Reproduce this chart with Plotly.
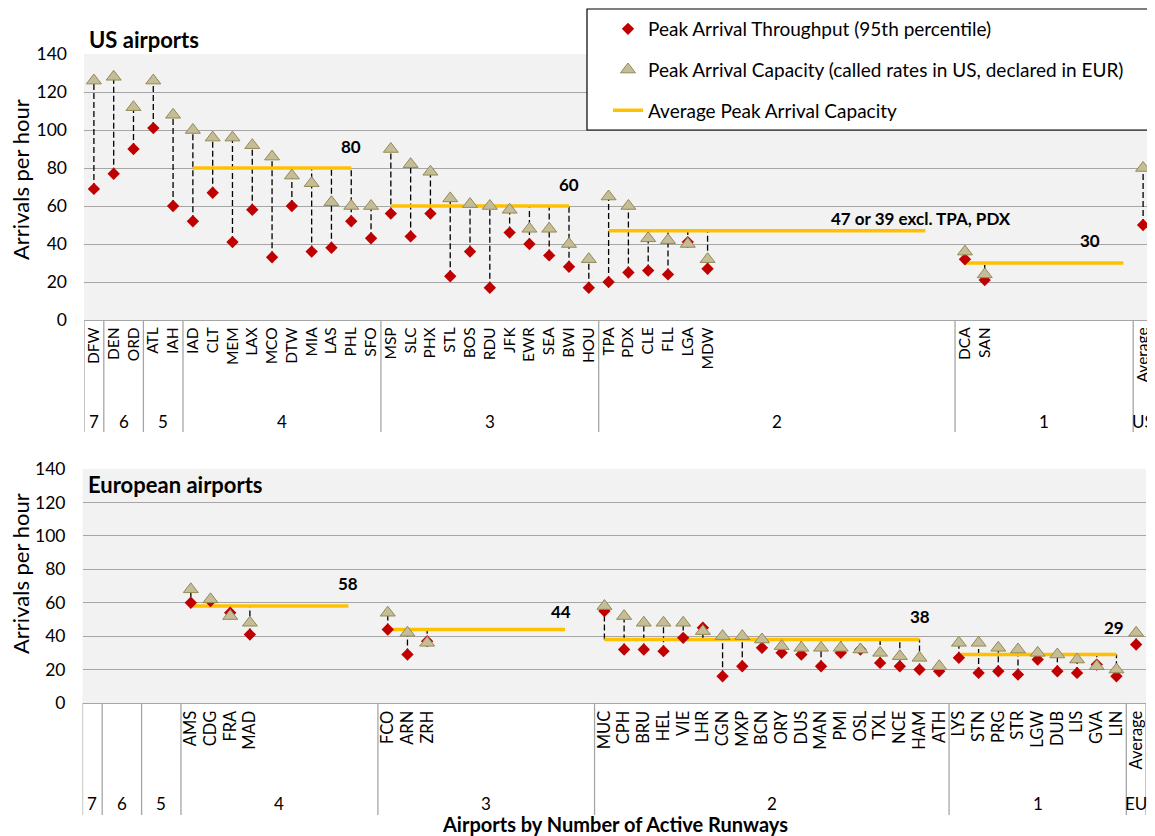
import plotly.graph_objects as go

# the page body has an 8px margin; the figure is sized so page pixels match the reference
OFF = 8
W, H = 1155 - OFF, 836 - OFF
FONT = "Lato"

# ---------------- data ----------------
runway_groups = ["7", "6", "5", "4", "3", "2", "1"]
group_slots = [1, 2, 2, 10, 11, 18, 9]

us_airports = ["DFW", "DEN", "ORD", "ATL", "IAH",
               "IAD", "CLT", "MEM", "LAX", "MCO", "DTW", "MIA", "LAS", "PHL", "SFO",
               "MSP", "SLC", "PHX", "STL", "BOS", "RDU", "JFK", "EWR", "SEA", "BWI", "HOU",
               "TPA", "PDX", "CLE", "FLL", "LGA", "MDW",
               "DCA", "SAN"]
us_runways = ["7", "6", "6", "5", "5",
              "4", "4", "4", "4", "4", "4", "4", "4", "4", "4",
              "3", "3", "3", "3", "3", "3", "3", "3", "3", "3", "3",
              "2", "2", "2", "2", "2", "2",
              "1", "1"]
us_capacity = [126, 128, 112, 126, 108,
               100, 96, 96, 92, 86, 76, 72, 62, 60, 60,
               90, 82, 78, 64, 61, 60, 58, 48, 48, 40, 32,
               65, 60, 43, 42, 40, 32,
               36, 24]
us_throughput = [69, 77, 90, 101, 60,
                 52, 67, 41, 58, 33, 60, 36, 38, 52, 43,
                 56, 44, 56, 23, 36, 17, 46, 40, 34, 28, 17,
                 20, 25, 26, 24, 41, 27,
                 32, 21]
us_avg_groups = ["4", "3", "2", "1"]
us_avg_values = [80, 60, 47, 30]
us_avg_labels = ["80", "60", "47 or 39 excl. TPA, PDX", "30"]
us_total_name = "US"
us_total_capacity = 80
us_total_throughput = 50

eu_airports = ["AMS", "CDG", "FRA", "MAD",
               "FCO", "ARN", "ZRH",
               "MUC", "CPH", "BRU", "HEL", "VIE", "LHR", "CGN", "MXP", "BCN", "ORY",
               "DUS", "MAN", "PMI", "OSL", "TXL", "NCE", "HAM", "ATH",
               "LYS", "STN", "PRG", "STR", "LGW", "DUB", "LIS", "GVA", "LIN"]
eu_runways = ["4", "4", "4", "4",
              "3", "3", "3",
              "2", "2", "2", "2", "2", "2", "2", "2", "2", "2",
              "2", "2", "2", "2", "2", "2", "2", "2",
              "1", "1", "1", "1", "1", "1", "1", "1", "1"]
eu_capacity = [68, 62, 52, 48,
               54, 42, 36,
               58, 52, 48, 48, 48, 43, 40, 40, 38, 34,
               33, 33, 33, 32, 30, 28, 27, 22,
               36, 36, 33, 32, 30, 29, 26, 22, 20]
eu_throughput = [60, 61, 54, 41,
                 44, 29, 37,
                 55, 32, 32, 31, 39, 45, 16, 22, 33, 30,
                 29, 22, 30, 32, 24, 22, 20, 19,
                 27, 18, 19, 17, 26, 19, 18, 23, 16]
eu_avg_groups = ["4", "3", "2", "1"]
eu_avg_values = [58, 44, 38, 29]
eu_avg_labels = ["58", "44", "38", "29"]
eu_total_name = "EU"
eu_total_capacity = 42
eu_total_throughput = 35

# slots covered by each average line (from first slot of the group)
avg_line_slots = [9, 10, 17, 9]

# ---------------- styling ----------------
RED = "#c00000"
TRI_FILL = "#c4bd97"
TRI_LINE = "#948a54"
ORANGE = "#ffc000"
GRID = "#a6a6a6"
BG = "#f2f2f2"

group_start = {}
s = 0
for g, n in zip(runway_groups, group_slots):
    group_start[g] = s
    s += n
TOTAL_SLOT = s          # slot of the "Average" column
N_SLOTS = s + 1


def slots_for(runways):
    pos, seen = [], {}
    for r in runways:
        k = seen.get(r, 0)
        pos.append(group_start[r] + k)
        seen[r] = k + 1
    return pos


def panel(cap, thr, runways, avg_groups, avg_vals, tot_cap, tot_thr, xa, ya, legend):
    xs = slots_for(runways) + [TOTAL_SLOT]
    caps = cap + [tot_cap]
    thrs = thr + [tot_thr]
    avg_at = {}
    ax, ay, ends = [], [], []
    for g, v, n in zip(avg_groups, avg_vals, avg_line_slots):
        a = group_start[g]
        b = a + n - 1
        ax += [a, b, None]
        ay += [v, v, None]
        ends.append(b)
        for k in range(a, b + 1):
            avg_at[k] = v
    hx, hy = [], []
    for x, c, t in zip(xs, caps, thrs):
        vals = [c, t] + ([avg_at[x]] if x in avg_at else [])
        hx += [x, x, None]
        hy += [min(vals), max(vals), None]
    traces = [
        go.Scatter(x=hx, y=hy, mode="lines", xaxis=xa, yaxis=ya,
                   line=dict(color="black", width=1.3, dash="6px,3px"),
                   showlegend=False, hoverinfo="skip"),
        go.Scatter(x=ax, y=ay, mode="lines", xaxis=xa, yaxis=ya,
                   line=dict(color=ORANGE, width=3.5),
                   name="Average Peak Arrival Capacity", legendgroup="avg",
                   legendrank=3, showlegend=legend),
        go.Scatter(x=xs, y=thrs, mode="markers", xaxis=xa, yaxis=ya,
                   marker=dict(symbol="diamond", size=9.5, color=RED, line=dict(width=0)),
                   name="Peak Arrival Throughput (95th percentile)", legendgroup="thr",
                   legendrank=1, showlegend=legend),
        go.Scatter(x=xs, y=caps, mode="markers", xaxis=xa, yaxis=ya,
                   marker=dict(symbol="triangle-up", size=13, color=TRI_FILL,
                               line=dict(color=TRI_LINE, width=1)),
                   name="Peak Arrival Capacity (called rates in US, declared in EUR)",
                   legendgroup="cap", legendrank=2, showlegend=legend),
    ]
    return traces, xs, ends


us_traces, us_xs, us_ends = panel(us_capacity, us_throughput, us_runways, us_avg_groups,
                                  us_avg_values, us_total_capacity, us_total_throughput,
                                  "x", "y", True)
eu_traces, eu_xs, eu_ends = panel(eu_capacity, eu_throughput, eu_runways, eu_avg_groups,
                                  eu_avg_values, eu_total_capacity, eu_total_throughput,
                                  "x2", "y2", False)

fig = go.Figure(us_traces + eu_traces)


def px(X):
    return (X - OFF) / W


def py(Y):
    return 1 - (Y - OFF) / H


# panel geometry (page pixels)
TOP = dict(x0=84, x1=1153, y140=54, y0=320, tbl=432, grp=421, lab=15.5)
BOT = dict(x0=82.5, x1=1146, y140=469, y0=703, tbl=815, grp=803, lab=16.5)

axis_common = dict(range=[-0.5, N_SLOTS - 0.5], tickangle=-90, showgrid=False, zeroline=False,
                   showline=True, linecolor=GRID, linewidth=1.3, ticks="", fixedrange=True)
yaxis_common = dict(range=[0, 140], dtick=20, showgrid=True, gridcolor=GRID, gridwidth=1.3,
                    zeroline=False, showline=False, ticks="", ticklabelstandoff=16,
                    tickfont=dict(family=FONT, size=17.5, color="black"), fixedrange=True)

fig.update_layout(
    xaxis=dict(domain=[px(TOP["x0"]), px(TOP["x1"])], anchor="y",
               tickvals=us_xs, ticktext=us_airports + ["Average"],
               tickfont=dict(family=FONT, size=TOP["lab"], color="black"), **axis_common),
    yaxis=dict(domain=[py(TOP["y0"]), py(TOP["y140"])], anchor="x", **yaxis_common),
    xaxis2=dict(domain=[px(BOT["x0"]), px(BOT["x1"])], anchor="y2",
                tickvals=eu_xs, ticktext=eu_airports + ["Average"],
                tickfont=dict(family=FONT, size=BOT["lab"], color="black"), **axis_common),
    yaxis2=dict(domain=[py(BOT["y0"]), py(BOT["y140"])], anchor="x2", **yaxis_common),
)

shapes, ann = [], []
bounds = [group_start[g] - 0.5 for g in runway_groups] + [TOTAL_SLOT - 0.5, TOTAL_SLOT + 0.5]
for xr, P, names in (("x", TOP, runway_groups + [us_total_name]),
                     ("x2", BOT, runway_groups + [eu_total_name])):
    for b in bounds:
        shapes.append(dict(type="line", xref=xr, yref="paper", x0=b, x1=b,
                           y0=py(P["y0"]), y1=py(P["tbl"]), line=dict(color=GRID, width=1.3)))
    for i, nm in enumerate(names):
        cx = (bounds[i] + bounds[i + 1]) / 2
        ann.append(dict(xref=xr, yref="paper", x=cx, y=py(P["grp"]), text=nm, showarrow=False,
                        font=dict(family=FONT, size=17, color="black"),
                        xanchor="center", yanchor="middle"))

# average value labels
us_lab_dx = [0, 0, -0.2, -1.7]
us_lab_dy = [22, 22, 12, 23]
eu_lab_dx = [0, -0.2, 0, -0.1]
eu_lab_dy = [23, 18, 23, 27]
for xr, yr, ends, vals, labs, dxs, dys in (("x", "y", us_ends, us_avg_values, us_avg_labels, us_lab_dx, us_lab_dy),
                                           ("x2", "y2", eu_ends, eu_avg_values, eu_avg_labels, eu_lab_dx, eu_lab_dy)):
    for e, v, t, dx, dy in zip(ends, vals, labs, dxs, dys):
        ann.append(dict(xref=xr, yref=yr, x=e + dx, y=v, yshift=dy, text="<b>%s</b>" % t,
                        showarrow=False, font=dict(family=FONT, size=17, color="black"),
                        xanchor="center", yanchor="middle"))

# titles
ann.append(dict(xref="paper", yref="paper", x=px(87), y=py(40), text="<b>US airports</b>",
                showarrow=False, xanchor="left", yanchor="middle",
                font=dict(family=FONT, size=22, color="black")))
ann.append(dict(xref="paper", yref="paper", x=px(86), y=py(484), text="<b>European airports</b>",
                showarrow=False, xanchor="left", yanchor="middle",
                font=dict(family=FONT, size=22, color="black")))
for yc in (180, 574):
    ann.append(dict(xref="paper", yref="paper", x=px(20), y=py(yc), text="Arrivals per hour",
                    textangle=-90, showarrow=False, xanchor="center", yanchor="middle",
                    font=dict(family=FONT, size=22, color="black")))
ann.append(dict(xref="paper", yref="paper", x=px(614.5), y=py(824),
                text="<b>Airports by Number of Active Runways</b>", showarrow=False,
                xanchor="center", yanchor="middle", font=dict(family=FONT, size=20, color="black")))

# legend box (drawn above the plot area, legend entries sit on top of it)
shapes.append(dict(type="rect", xref="paper", yref="paper", x0=px(587), x1=px(1150),
                   y0=py(130), y1=py(9), line=dict(color="black", width=1.2),
                   fillcolor="white", layer="above"))

fig.update_layout(
    width=W, height=H, autosize=False,
    margin=dict(l=0, r=0, t=0, b=0, pad=0, autoexpand=False),
    paper_bgcolor="white", plot_bgcolor=BG,
    font=dict(family=FONT, color="black"),
    shapes=shapes, annotations=ann,
    legend=dict(x=px(608), y=py(10), xanchor="left", yanchor="top",
                bgcolor="rgba(0,0,0,0)", borderwidth=0, tracegroupgap=13,
                traceorder="grouped", font=dict(family=FONT, size=19, color="black")),
    hovermode=False,
)

fig.write_html("out.html")
